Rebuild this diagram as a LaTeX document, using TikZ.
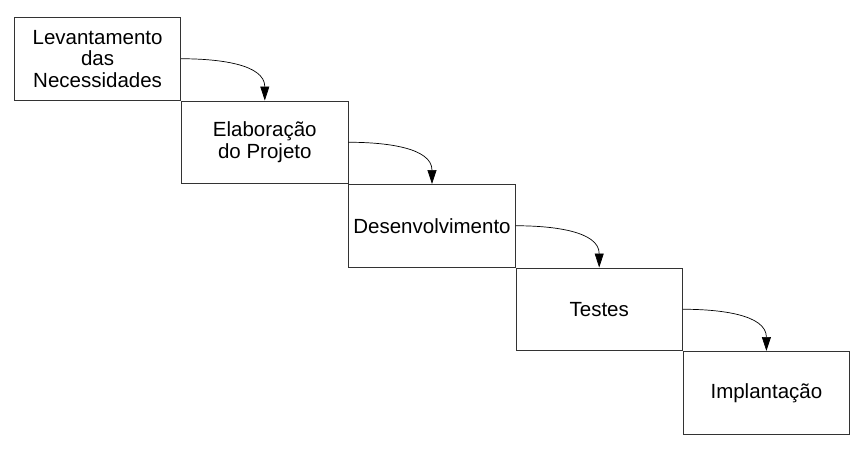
\documentclass[tikz,border=0pt]{standalone}
\usepackage{fontspec}
\setmainfont{Liberation Sans}
\usetikzlibrary{positioning,arrows.meta}

\begin{document}
\begin{tikzpicture}
    [x=1pt, y=-1pt,
     phase/.style={draw=black!80,line width=0.8pt,minimum width=166.4pt,minimum height=82.7pt,
                   inner sep=0pt,align=center,font=\fontsize{20.5}{21.5}\selectfont},
     flow/.style={-{Triangle[length=14pt,width=9pt]},line width=0.7pt}]
    \useasboundingbox (0, 0) rectangle (864, 448);

    % Phases
    \node (lev) at (14, 17) [phase, anchor=north west] {Levantamento\\das\\Necessidades};
    \node (proj) [below right=0 of lev] [phase] {Elaboração\\do Projeto};
    \node (dev) [below right=0 of proj] [phase] {Desenvolvimento};
    \node (test) [below right=0 of dev] [phase] {Testes};
    \node (impl) [below right=0 of test] [phase] {Implantação};

    % Flow
    \draw [flow] (lev.east)  to [out=0, in=90] (proj.north);
    \draw [flow] (proj.east) to [out=0, in=90] (dev.north);
    \draw [flow] (dev.east)  to [out=0, in=90] (test.north);
    \draw [flow] (test.east) to [out=0, in=90] (impl.north);
\end{tikzpicture}
\end{document}
